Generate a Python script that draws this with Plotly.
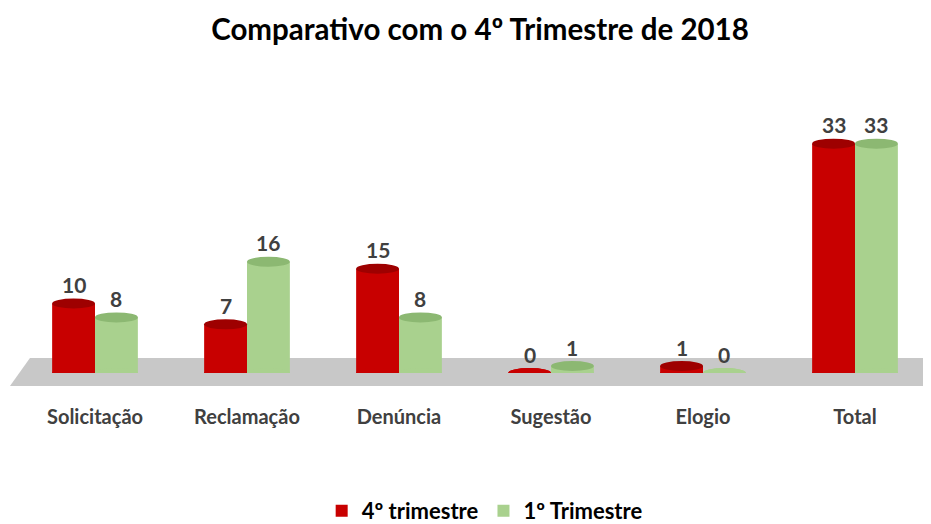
import plotly.graph_objects as go

categories = ["Solicitação", "Reclamação", "Denúncia", "Sugestão", "Elogio", "Total"]
q4_2018 = [10, 7, 15, 0, 1, 33]
q1_2019 = [8, 16, 8, 1, 0, 33]
series_names = ["4º trimestre", "1º Trimestre"]

RED, RED_TOP = "#C80000", "#9E0000"
GREEN, GREEN_TOP = "#A9D18E", "#8CB872"
FONT = "Lato"

fig = go.Figure()
fig.add_bar(x=categories, y=q4_2018, name=series_names[0], marker_color=RED,
            marker_line_width=0)
fig.add_bar(x=categories, y=q1_2019, name=series_names[1], marker_color=GREEN,
            marker_line_width=0)

bargap = 0.436
w = (1 - bargap) / 2
shapes = []
# floor
shapes.append(dict(type="path", xref="paper", yref="paper", layer="below",
                   path="M 0.012 0.054 L 1.0 0.054 L 0.998 -0.047 L -0.0099 -0.047 Z",
                   fillcolor="#C8C8C8", line_width=0))
annotations = []
for i, (a, b) in enumerate(zip(q4_2018, q1_2019)):
    for val, cx, col, top in ((a, i - w / 2, RED, RED_TOP), (b, i + w / 2, GREEN, GREEN_TOP)):
        # bottom ellipse
        shapes.append(dict(type="circle", xref="x", yref="y", layer="above",
                           x0=cx - w / 2, x1=cx + w / 2, ysizemode="pixel", yanchor=0,
                           y0=-5, y1=5, fillcolor=col, line_width=0))
        # top ellipse
        shapes.append(dict(type="circle", xref="x", yref="y", layer="above",
                           x0=cx - w / 2, x1=cx + w / 2, ysizemode="pixel", yanchor=val,
                           y0=-5, y1=5, fillcolor=top if val > 0 else col, line_width=0))
        annotations.append(dict(x=cx, y=val, xref="x", yref="y", text=f"<b>{val}</b>",
                                showarrow=False, yshift=19,
                                font=dict(family=FONT, size=21, color="#404040")))

fig.update_layout(
    width=931, height=524,
    margin=dict(l=11, r=8, t=87, b=159, autoexpand=False),
    paper_bgcolor="white", plot_bgcolor="rgba(0,0,0,0)",
    barmode="group", bargap=bargap, bargroupgap=0,
    title=dict(text="<b>Comparativo com o 4º Trimestre de 2018</b>",
               x=0.507, xref="container", xanchor="center", y=0.958, yref="container",
               yanchor="middle",
               font=dict(family=FONT, size=29.5, color="black")),
    xaxis=dict(range=[-0.5, 5.5], showgrid=False, showline=False, zeroline=False,
               ticks="", ticklabelstandoff=30,
               tickfont=dict(family=FONT, size=20, color="#404040", weight="bold")),
    yaxis=dict(range=[0, 40], visible=False, showgrid=False, zeroline=False),
    legend=dict(orientation="h", x=0.512, xanchor="center", xref="container",
                y=0.0, yanchor="bottom", yref="container",
                font=dict(family=FONT, size=22, color="black", weight="bold"),
                itemwidth=30, traceorder="normal"),
    shapes=shapes, annotations=annotations,
    showlegend=True,
)
fig.write_html("out.html")
